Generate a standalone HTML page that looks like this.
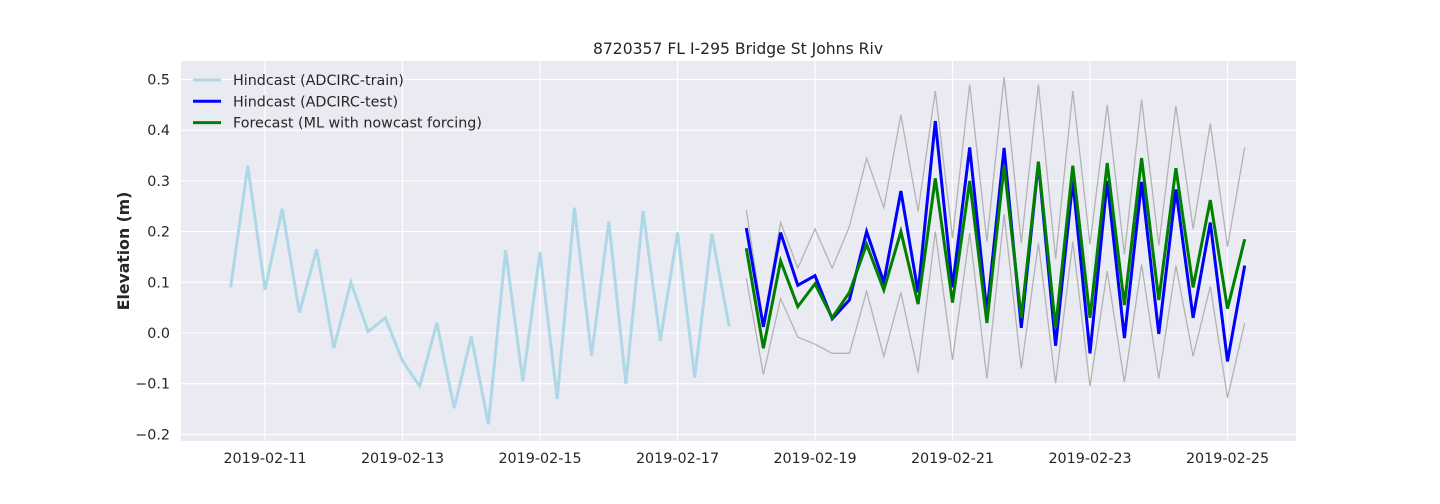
<!DOCTYPE html>
<html><head><meta charset="utf-8"><style>
html,body{margin:0;padding:0;background:#fff;}
svg{display:block;font-family:"DejaVu Sans","Liberation Sans",sans-serif;}
</style></head><body>
<svg id="chart" width="1440" height="504" viewBox="0 0 1440 504"></svg>
<script>
const yTicks=[-0.2,-0.1,0.0,0.1,0.2,0.3,0.4,0.5];
const yTickLabels=["\u22120.2","\u22120.1","0.0","0.1","0.2","0.3","0.4","0.5"];
const xTickDays=[11,13,15,17,19,21,23,25];
const xTickLabels=["2019-02-11","2019-02-13","2019-02-15","2019-02-17","2019-02-19","2019-02-21","2019-02-23","2019-02-25"];
const trainStartDay=10.5;
const testStartDay=18.0;
const stepDays=0.25;
const trainValues=[0.09,0.33,0.085,0.245,0.04,0.165,-0.03,0.10,0.003,0.03,-0.055,-0.105,0.02,-0.148,-0.007,-0.18,0.163,-0.095,0.16,-0.13,0.247,-0.045,0.22,-0.10,0.24,-0.015,0.198,-0.088,0.196,0.013];
const testValues=[0.207,0.012,0.198,0.094,0.113,0.028,0.065,0.20,0.10,0.28,0.08,0.418,0.09,0.366,0.04,0.365,0.01,0.336,-0.025,0.30,-0.04,0.30,-0.01,0.298,-0.002,0.283,0.03,0.218,-0.056,0.133];
const forecastValues=[0.167,-0.03,0.142,0.052,0.097,0.03,0.08,0.175,0.085,0.20,0.057,0.305,0.06,0.30,0.02,0.33,0.03,0.338,0.01,0.33,0.03,0.335,0.055,0.345,0.065,0.325,0.09,0.262,0.048,0.185];
const upperValues=[0.243,0.02,0.218,0.128,0.205,0.128,0.21,0.345,0.247,0.43,0.24,0.477,0.187,0.49,0.18,0.505,0.177,0.49,0.146,0.477,0.175,0.45,0.155,0.46,0.173,0.448,0.205,0.413,0.17,0.366];
const lowerValues=[0.108,-0.082,0.068,-0.008,-0.022,-0.04,-0.04,0.082,-0.046,0.08,-0.078,0.2,-0.053,0.197,-0.09,0.234,-0.07,0.177,-0.099,0.18,-0.105,0.122,-0.097,0.135,-0.09,0.133,-0.046,0.092,-0.128,0.02];

const NS="http://www.w3.org/2000/svg";
const svg=document.getElementById('chart');
const L=181,R=1296,T=61,B=441;
function xs(d){return 265+(d-11)*68.75;}
function ys(v){return 333-v*507.1;}
function mk(tag,attrs,parent){const e=document.createElementNS(NS,tag);for(const k in attrs)e.setAttribute(k,attrs[k]);(parent||svg).appendChild(e);return e;}

const bg=mk('rect',{x:L,y:T,width:R-L,height:B-T,fill:'#EAEAF2'});



yTicks.forEach((v,i)=>{
  const g=mk('line',{x1:L,x2:R,y1:ys(v),y2:ys(v),stroke:'#fff','stroke-width':1.1});
  
  
  const t=mk('text',{x:170,y:ys(v)+5,'text-anchor':'end','font-size':14.3,fill:'#262626'});
  t.textContent=yTickLabels[i];
  
  
});
xTickDays.forEach((d,i)=>{
  const g=mk('line',{x1:xs(d),x2:xs(d),y1:T,y2:B,stroke:'#fff','stroke-width':1.1});
  
  
  const t=mk('text',{x:xs(d),y:463,'text-anchor':'middle','font-size':14.3,fill:'#262626'});
  t.textContent=xTickLabels[i];
  
  
});

function series(vals,start,color,w,name){
  const pts=vals.map((v,i)=>xs(start+i*stepDays).toFixed(1)+','+ys(v).toFixed(1)).join(' ');
  const p=mk('polyline',{points:pts,fill:'none',stroke:color,'stroke-width':w,'stroke-linejoin':'miter'});
  
  
}
series(upperValues,testStartDay,'#b3b3b3',1.3,'upper-bound-line');
series(lowerValues,testStartDay,'#b3b3b3',1.3,'lower-bound-line');
series(trainValues,trainStartDay,'#ADD8E6',3,'train-line');
series(testValues,testStartDay,'#0000FF',3,'test-line');
series(forecastValues,testStartDay,'#008000',3,'forecast-line');

const title=mk('text',{x:738,y:54,'text-anchor':'middle','font-size':15.6,fill:'#262626'});
title.textContent='8720357 FL I-295 Bridge St Johns Riv';



const yl=mk('text',{x:0,y:0,'text-anchor':'middle','font-size':15.7,'font-weight':'bold',fill:'#262626',transform:'translate(129,251) rotate(-90)'});
yl.textContent='Elevation (m)';



const legendLabels=['Hindcast (ADCIRC-train)','Hindcast (ADCIRC-test)','Forecast (ML with nowcast forcing)'];
const legendColors=['#ADD8E6','#0000FF','#008000'];
legendLabels.forEach((lab,i)=>{
  const y=80+i*21.3;
  const ln=mk('line',{x1:193,x2:221,y1:y,y2:y,stroke:legendColors[i],'stroke-width':3});
  
  
  const t=mk('text',{x:233,y:y+5,'font-size':14.3,fill:'#262626'});
  t.textContent=lab;
  
  
});
</script>
</body></html>
